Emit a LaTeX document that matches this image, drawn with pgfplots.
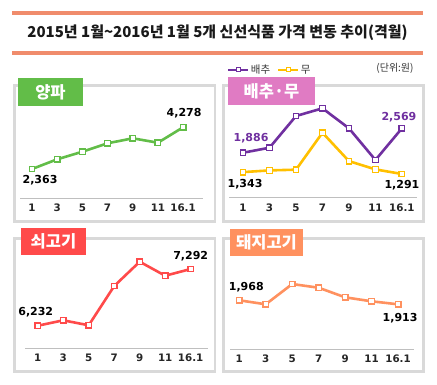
\documentclass[border=0pt]{standalone}
\usepackage{fontspec}
\usepackage{pgfplots}
\pgfplotsset{compat=1.18}
\setmainfont{Noto Sans CJK KR}
\newfontfamily\numfont{DejaVu Sans}
\definecolor{cGreen}{HTML}{62BD48}
\definecolor{cPurple}{HTML}{7030A0}
\definecolor{cYellow}{HTML}{FFC000}
\definecolor{cRed}{HTML}{FF4A4A}
\definecolor{cOrange}{HTML}{FF915F}
\definecolor{cPink}{HTML}{E07BC3}
\definecolor{cSalmon}{HTML}{F08C6C}
\definecolor{cBorder}{HTML}{D9D9D9}
\definecolor{cAxis}{HTML}{BFBFBF}
\pgfplotsset{
  panel/.style={
    scale only axis, anchor=south west,
    axis y line=none, axis x line*=bottom,
    x axis line style={-, draw=cAxis, line width=0.8pt},
    xtick={0,...,6}, xticklabels={1,3,5,7,9,11,16.1},
    major tick length=0pt,
    xticklabel style={font=\numfont\bfseries\fontsize{10.3}{11}\selectfont, text=black!85, yshift=-2.5pt},
    clip=false,
    /pgf/number format/assume math mode=true,
  },
  ser/.style={color=#1, line width=2.6pt, mark=square*, mark size=2.8pt,
    mark options={fill=white, line width=1.3pt, solid}},
}
\newcommand{\vl}{\numfont\bfseries\fontsize{11}{11}\selectfont}
\newcommand{\lab}{\bfseries\fontsize{16.5}{17}\selectfont}
\begin{document}
\begin{tikzpicture}
\useasboundingbox (0,0) rectangle (437pt,-384pt);
\fill[white] (0,0) rectangle (437pt,-384pt);
% title
\fill[cSalmon] (12pt,-10.5pt) rectangle (423pt,-14.5pt);
\fill[cSalmon] (12pt,-51pt) rectangle (423pt,-55pt);
\node[font=\bfseries\fontsize{15}{15}\selectfont, text=black!90] at (217.5pt,-33pt) {2015년 1월\textasciitilde 2016년 1월 5개 신선식품 가격 변동 추이(격월)};
\node[font=\fontsize{10}{10}\selectfont, text=black!80] at (395pt,-68pt) {(단위:원)};
% panel frames
\draw[cBorder, line width=2.5pt] (14.5pt,-85.5pt) rectangle (215pt,-221.5pt);
\draw[cBorder, line width=2.5pt] (223.5pt,-85.5pt) rectangle (423.5pt,-221.5pt);
\draw[cBorder, line width=2.5pt] (14.5pt,-238.5pt) rectangle (215pt,-371.5pt);
\draw[cBorder, line width=2.5pt] (223.5pt,-238.5pt) rectangle (423.5pt,-371.5pt);
% label boxes
\fill[cGreen] (18pt,-78pt) rectangle (83pt,-106pt);
\node[text=white, font=\lab] at (50.5pt,-92pt) {양파};
\fill[cPink] (228pt,-77pt) rectangle (315pt,-105pt);
\node[text=white, font=\lab] at (271.5pt,-91pt) {배추·무};
\fill[cRed] (21pt,-228pt) rectangle (86pt,-255pt);
\node[text=white, font=\lab] at (53.5pt,-241.5pt) {쇠고기};
\fill[cOrange] (230pt,-229pt) rectangle (303pt,-256pt);
\node[text=white, font=\lab] at (266.5pt,-242.5pt) {돼지고기};

% Panel 1: onion
\begin{axis}[panel, at={(20pt,-198pt)}, width=183pt, height=88pt,
  xmin=-0.477, xmax=6.79, ymin=1032, ymax=5071]
\addplot[ser=cGreen] coordinates {(0,2363)(1,2808)(2,3157)(3,3543)(4,3772)(5,3570)(6,4278)};
\node[font=\vl, xshift=8pt, yshift=-11pt] at (axis cs:0,2363) {2,363};
\node[font=\vl, xshift=1pt, yshift=14pt] at (axis cs:6,4278) {4,278};
\end{axis}

% Panel 2: cabbage / radish
\begin{axis}[panel, at={(229pt,-197.5pt)}, width=188pt, height=97.5pt,
  xmin=-0.53, xmax=6.57, ymin=632, ymax=3362,
  legend style={at={(0.218,1.308)}, anchor=center, draw=none, fill=none,
    font=\fontsize{10.5}{10.5}\selectfont, text=black!80,
    /tikz/every even column/.append style={column sep=5pt}},
  legend columns=2,
  legend image code/.code={\draw[mark repeat=2, mark phase=2, line width=1.6pt, mark size=2pt,
      mark options={fill=white, line width=1pt, solid}]
      plot coordinates {(0pt,0pt)(10pt,0pt)(20pt,0pt)};}]
\addplot[ser=cPurple] coordinates {(0,1886)(1,2026)(2,2914)(3,3129)(4,2570)(5,1682)(6,2569)};
\addlegendentry{배추}
\addplot[ser=cYellow] coordinates {(0,1343)(1,1391)(2,1411)(3,2446)(4,1651)(5,1419)(6,1291)};
\addlegendentry{무}
\node[font=\vl, text=cPurple, xshift=8pt, yshift=15pt] at (axis cs:0,1886) {1,886};
\node[font=\vl, text=cPurple, xshift=-3pt, yshift=11pt] at (axis cs:6,2569) {2,569};
\node[font=\vl, xshift=2pt, yshift=-12pt] at (axis cs:0,1343) {1,343};
\node[font=\vl, xshift=0pt, yshift=-11pt] at (axis cs:6,1291) {1,291};
\end{axis}

% Panel 3: beef
\begin{axis}[panel, at={(25pt,-348pt)}, width=183pt, height=98pt,
  xmin=-0.5, xmax=6.68, ymin=5815, ymax=7648]
\addplot[ser=cRed] coordinates {(0,6232)(1,6333)(2,6240)(3,6974)(4,7429)(5,7167)(6,7292)};
\node[font=\vl, xshift=-2pt, yshift=14pt] at (axis cs:0,6232) {6,232};
\node[font=\vl, xshift=0pt, yshift=13pt] at (axis cs:6,7292) {7,292};
\end{axis}

% Panel 4: pork
\begin{axis}[panel, at={(230pt,-349pt)}, width=184pt, height=99pt,
  xmin=-0.35, xmax=6.6, ymin=1298, ymax=2660]
\addplot[ser=cOrange] coordinates {(0,1968)(1,1913)(2,2192)(3,2141)(4,2009)(5,1954)(6,1913)};
\node[font=\vl, xshift=7pt, yshift=13pt] at (axis cs:0,1968) {1,968};
\node[font=\vl, xshift=2pt, yshift=-14pt] at (axis cs:6,1913) {1,913};
\end{axis}
\end{tikzpicture}
\end{document}
